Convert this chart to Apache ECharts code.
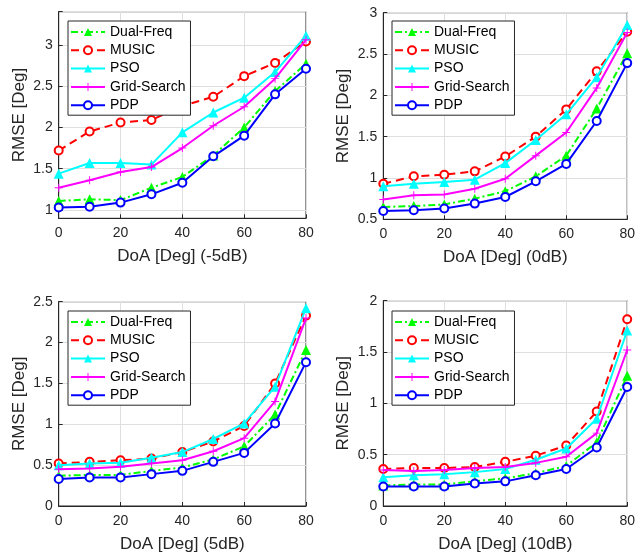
<!DOCTYPE html>
<html>
<head>
<meta charset="utf-8">
<script src="https://cdn.jsdelivr.net/npm/echarts@6/dist/echarts.min.js"></script>
<style>
  html, body { margin: 0; padding: 0; background: #fff; }
  #chart { width: 638px; height: 554px; }
</style>
</head>
<body>
<div id="chart"></div>
<script>
// DoA values on the x axis
const doa = [0, 10, 20, 30, 40, 50, 60, 70, 80]
const methods = ['Dual-Freq', 'MUSIC', 'PSO', 'Grid-Search', 'PDP']
const snrTitles = ['DoA [Deg] (-5dB)', 'DoA [Deg] (0dB)', 'DoA [Deg] (5dB)', 'DoA [Deg] (10dB)']

// -5dB
const dualFreqM5 = [1.11, 1.13, 1.12, 1.27, 1.40, 1.66, 2.00, 2.44, 2.77]
const musicM5 = [1.72, 1.95, 2.06, 2.09, 2.26, 2.37, 2.62, 2.78, 3.04]
const psoM5 = [1.44, 1.57, 1.57, 1.55, 1.94, 2.18, 2.36, 2.67, 3.11]
const gridM5 = [1.27, 1.36, 1.46, 1.52, 1.75, 2.02, 2.25, 2.59, 3.06]
const pdpM5 = [1.03, 1.04, 1.09, 1.19, 1.33, 1.65, 1.90, 2.40, 2.71]

// 0dB
const dualFreq0 = [0.65, 0.66, 0.68, 0.75, 0.84, 1.02, 1.27, 1.84, 2.51]
const music0 = [0.93, 1.02, 1.04, 1.08, 1.26, 1.50, 1.83, 2.29, 2.77]
const pso0 = [0.90, 0.93, 0.95, 0.98, 1.18, 1.46, 1.77, 2.22, 2.85]
const grid0 = [0.74, 0.79, 0.80, 0.87, 0.99, 1.27, 1.55, 2.09, 2.76]
const pdp0 = [0.60, 0.61, 0.63, 0.69, 0.77, 0.96, 1.17, 1.69, 2.39]

// 5dB
const dualFreq5 = [0.37, 0.38, 0.38, 0.43, 0.47, 0.57, 0.73, 1.12, 1.91]
const music5 = [0.52, 0.54, 0.56, 0.58, 0.66, 0.79, 0.98, 1.50, 2.33]
const pso5 = [0.50, 0.52, 0.53, 0.59, 0.66, 0.82, 1.01, 1.46, 2.42]
const grid5 = [0.45, 0.46, 0.48, 0.52, 0.56, 0.67, 0.83, 1.28, 2.30]
const pdp5 = [0.33, 0.35, 0.35, 0.39, 0.43, 0.54, 0.65, 1.01, 1.76]

// 10dB
const dualFreq10 = [0.20, 0.21, 0.21, 0.24, 0.27, 0.32, 0.39, 0.62, 1.27]
const music10 = [0.36, 0.37, 0.37, 0.38, 0.43, 0.49, 0.59, 0.92, 1.82]
const pso10 = [0.28, 0.30, 0.31, 0.33, 0.36, 0.45, 0.56, 0.85, 1.71]
const grid10 = [0.35, 0.34, 0.35, 0.37, 0.38, 0.42, 0.48, 0.71, 1.52]
const pdp10 = [0.19, 0.19, 0.19, 0.22, 0.24, 0.30, 0.36, 0.57, 1.16]

const panels = [
  [dualFreqM5, musicM5, psoM5, gridM5, pdpM5],
  [dualFreq0, music0, pso0, grid0, pdp0],
  [dualFreq5, music5, pso5, grid5, pdp5],
  [dualFreq10, music10, pso10, grid10, pdp10]
]
const yMin = [0.9, 0.5, 0, 0]
const yMax = [3.4, 3, 2.5, 2]

const FONT = '"Liberation Sans", Arial, Helvetica, sans-serif'
// thin plus sign for Grid-Search
const plusPath = 'path://M-0.6,-5L0.6,-5L0.6,-0.6L5,-0.6L5,0.6L0.6,0.6L0.6,5L-0.6,5L-0.6,0.6L-5,0.6L-5,-0.6L-0.6,-0.6Z'

// look of each method
const styles = [
  { color: '#00ff00', symbol: 'triangle', symbolSize: 10, dash: [7, 3, 2, 3], hollow: false },
  { color: '#ff0000', symbol: 'circle', symbolSize: 8, dash: [8, 5], hollow: true },
  { color: '#00ffff', symbol: 'triangle', symbolSize: 10, dash: 'solid', hollow: false },
  { color: '#ff00ff', symbol: plusPath, symbolSize: 8, dash: 'solid', hollow: false },
  { color: '#0000ff', symbol: 'circle', symbolSize: 8, dash: 'solid', hollow: true }
]

const grids = [
  { left: 58.7, top: 11.7, width: 247.3, height: 206.6 },
  { left: 383.3, top: 12.7, width: 246.4, height: 206.6 },
  { left: 58.7, top: 301.7, width: 247.3, height: 204.8 },
  { left: 383.3, top: 300.7, width: 246.4, height: 206 }
]
const legendPos = [
  { left: 68, top: 21 },
  { left: 392, top: 21 },
  { left: 68, top: 311 },
  { left: 392, top: 311 }
]

const xAxes = []
const yAxes = []
const legends = []
const series = []

grids.forEach((g, i) => {
  g.show = true
  g.borderColor = '#262626'
  g.borderWidth = 1
  g.backgroundColor = '#fff'
  xAxes.push({
    type: 'value',
    gridIndex: i,
    min: 0,
    max: 80,
    interval: 20,
    name: snrTitles[i],
    nameLocation: 'middle',
    nameGap: 30,
    nameTextStyle: { fontFamily: FONT, fontSize: 17, color: '#262626' },
    axisLine: { show: true, lineStyle: { color: '#262626' } },
    axisTick: { show: true, inside: true, length: 4, lineStyle: { color: '#262626' } },
    axisLabel: { fontFamily: FONT, fontSize: 14, color: '#262626', margin: 8 },
    splitLine: { show: true, lineStyle: { color: '#dfdfdf' } }
  })
  yAxes.push({
    type: 'value',
    gridIndex: i,
    min: yMin[i],
    max: yMax[i],
    splitNumber: 5,
    name: 'RMSE [Deg]',
    nameLocation: 'middle',
    nameGap: 31,
    nameTextStyle: { fontFamily: FONT, fontSize: 17, color: '#262626' },
    axisLine: { show: true, lineStyle: { color: '#262626' } },
    axisTick: { show: true, inside: true, length: 4, lineStyle: { color: '#262626' } },
    axisLabel: {
      fontFamily: FONT, fontSize: 14, color: '#262626', margin: 6,
      showMinLabel: yMin[i] % 0.5 === 0,
      showMaxLabel: true,
      formatter: v => (Math.abs(v * 2 - Math.round(v * 2)) < 1e-6 ? String(+v.toFixed(2)) : '')
    },
    splitLine: { show: true, lineStyle: { color: '#dfdfdf' } }
  })
  legends.push({
    orient: 'vertical',
    left: legendPos[i].left,
    top: legendPos[i].top,
    data: methods,
    selectedMode: false,
    backgroundColor: '#fff',
    borderColor: '#262626',
    borderWidth: 1,
    borderRadius: 0,
    padding: [4, 5, 3, 2],
    itemWidth: 34,
    itemHeight: 10,
    itemGap: 4.3,
    textStyle: { fontFamily: FONT, fontSize: 14, color: '#000', lineHeight: 14 }
  })
  panels[i].forEach((vals, j) => {
    const s = styles[j]
    series.push({
      type: 'line',
      name: methods[j],
      xAxisIndex: i,
      yAxisIndex: i,
      data: doa.map((x, k) => [x, vals[k]]),
      symbol: s.symbol,
      symbolSize: s.symbolSize,
      showAllSymbol: true,
      lineStyle: { width: 2, type: s.dash, color: s.color },
      itemStyle: s.hollow
        ? { color: '#fff', borderColor: s.color, borderWidth: 2 }
        : { color: s.color, borderWidth: 0 },
      emphasis: { disabled: true },
      z: 2 + j
    })
  })
})

const chart = echarts.init(document.getElementById('chart'))
chart.setOption({
  animation: false,
  backgroundColor: '#fff',
  grid: grids,
  xAxis: xAxes,
  yAxis: yAxes,
  legend: legends,
  series: series
})
</script>
</body>
</html>
